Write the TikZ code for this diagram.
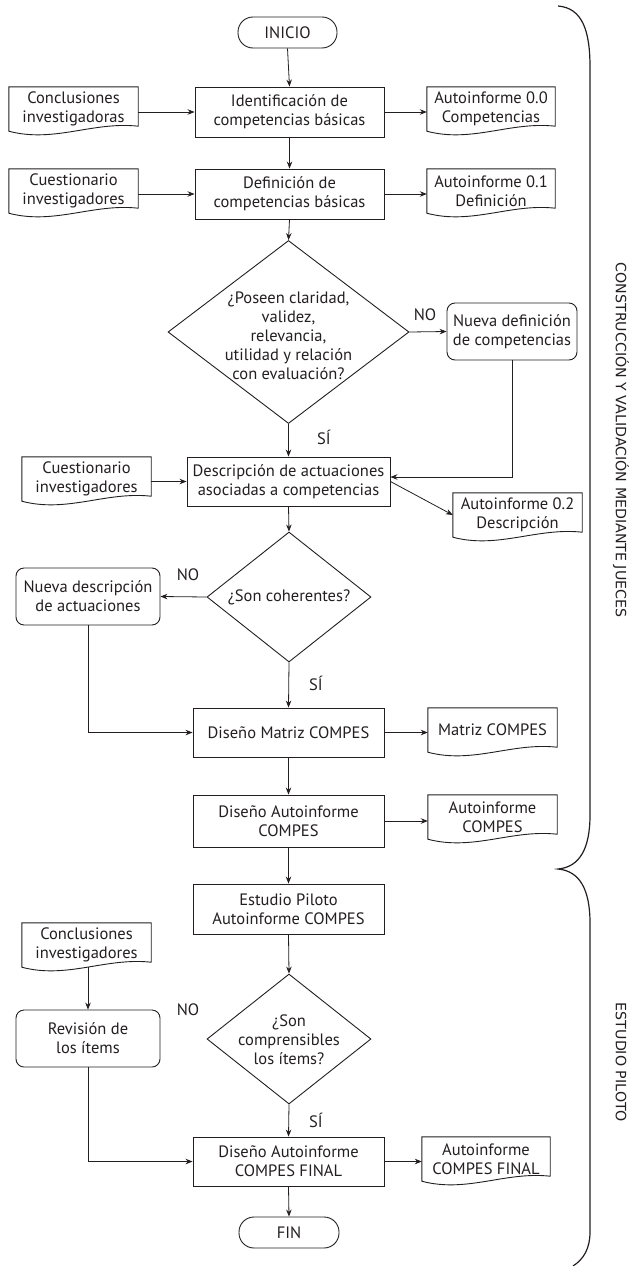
\documentclass[tikz,border=0pt]{standalone}
\usepackage{fontspec}
\setmainfont{PT Sans}
\newfontfamily\sidefont{DejaVu Sans}
\usetikzlibrary{arrows.meta,shapes.geometric,calc}
\definecolor{ink}{HTML}{231F20}
\begin{document}
\begin{tikzpicture}[x=1pt,y=-1pt,
  base/.style={font=\fontsize{16.5}{19}\selectfont, align=center, inner sep=0pt, text=ink},
  proc/.style={base, draw=ink, line width=0.9pt, minimum width=189pt, minimum height=50pt},
  altbox/.style={base, draw=ink, line width=0.9pt, rounded corners=8pt, minimum width=144pt, minimum height=57pt},
  term/.style={base, draw=ink, line width=0.9pt, rounded corners=15pt, minimum width=99pt, minimum height=31pt},
  docbox/.style={base, minimum width=129pt, minimum height=44pt},
  dec/.style={draw=ink, diamond, line width=0.9pt, inner sep=0pt},
  lbl/.style={base},
  side/.style={font=\sidefont\fontsize{14.2}{16}\selectfont, text=ink, rotate=-90, inner sep=0pt},
  arr/.style={draw=ink, line width=0.8pt, -{Stealth[length=7pt,width=5.5pt]}},
  docline/.style={draw=ink, line width=0.9pt},
  bracel/.style={draw=ink, line width=1.2pt}
]
\useasboundingbox (0,0) rectangle (632,1266);

% --- nodes ---
\node[term] (inicio) at (287.5,32.5) {INICIO};
\node[proc] (p1) at (289.5,112) {Identificación de\\competencias básicas};
\node[docbox] (c1) at (73.5,109) {Conclusiones\\investigadoras};
\node[docbox, minimum width=128pt] (a0) at (491,109) {Autoinforme 0.0\\Competencias};
\node[proc] (p2) at (289.5,194) {Definición de\\competencias básicas};
\node[docbox] (c2) at (73.5,191) {Cuestionario\\investigadores};
\node[docbox, minimum width=128pt] (a1) at (491,191) {Autoinforme 0.1\\Definición};

\node[dec, minimum width=241pt, minimum height=183pt] (d1) at (288.5,332) {};
\node[base] (d1t) at (288.5,335.5) {¿Poseen claridad,\\validez,\\relevancia,\\utilidad y relación\\con evaluación?};
\node[altbox, minimum width=130pt] (n1) at (512,331.5) {Nueva definición\\de competencias};
\node[lbl] (no1) at (425,315) {NO};
\node[lbl] (si1) at (324,437) {SÍ};

\node[proc, minimum width=203pt, minimum height=49pt] (p3) at (288.5,481.5) {Descripción de actuaciones\\asociadas a competencias};
\node[docbox] (c3) at (86.5,479) {Cuestionario\\investigadores};
\node[docbox] (a2) at (517.5,515) {Autoinforme 0.2\\Descripción};

\node[dec, minimum width=164pt, minimum height=130pt] (d2) at (289,597) {};
\node[base] (d2t) at (289,597) {¿Son coherentes?};
\node[altbox] (n2) at (88,596.5) {Nueva descripción\\de actuaciones};
\node[lbl] (no2) at (188,575) {NO};
\node[lbl] (si2) at (316,683) {SÍ};

\node[proc, minimum width=191pt, minimum height=49pt] (p4) at (288.5,732.5) {Diseño Matriz COMPES};
\node[docbox] (m) at (492.5,730) {Matriz COMPES};
\node[proc, minimum width=191pt, minimum height=52pt] (p5) at (288.5,821) {Diseño Autoinforme\\COMPES};
\node[docbox] (a3) at (492.5,817) {Autoinforme\\COMPES};
\node[proc, minimum width=191pt] (p6) at (288.5,909) {Estudio Piloto\\Autoinforme COMPES};

\node[dec, minimum width=164pt, minimum height=130pt] (d3) at (289,1039) {};
\node[base] (d3t) at (289,1040) {¿Son\\comprensibles\\los ítems?};
\node[docbox] (c4) at (86.5,945) {Conclusiones\\investigadores};
\node[altbox] (r) at (88,1038.5) {Revisión de\\los ítems};
\node[lbl] (no3) at (188,1010) {NO};
\node[lbl] (si3) at (316,1120) {SÍ};

\node[proc, minimum width=191pt, minimum height=49pt] (p7) at (288.5,1161.5) {Diseño Autoinforme\\COMPES FINAL};
\node[docbox, minimum width=128pt] (a4) at (486,1159) {Autoinforme\\COMPES FINAL};
\node[term, minimum width=100pt] (fin) at (289,1232.5) {FIN};

% side labels
\node[side] (s1) at (621,440) {CONSTRUCCIÓN Y VALIDACIÓN MEDIANTE JUECES};
\node[side] (s2) at (621,1062.5) {ESTUDIO PILOTO};

% --- document outlines ---
\foreach \n in {c1,a0,c2,a1,c3,a2,m,a3,c4,a4}{
  \draw[docline] (\n.south west) -- (\n.north west) -- (\n.north east) -- ($(\n.south east)+(0,5pt)$)
    .. controls ($(\n.south west)!0.65!(\n.south east)+(0,10pt)$) and ($(\n.south west)!0.35!(\n.south east)+(0,-12pt)$) .. (\n.south west) -- cycle;
}

% --- connectors ---
\draw[arr] (inicio.south) -- (p1.north);
\draw[arr] (c1.east |- p1.west) -- (p1.west);
\draw[arr] (p1.east) -- (p1.east -| a0.west);
\draw[arr] (p1.south) -- (p2.north);
\draw[arr] (c2.east |- p2.west) -- (p2.west);
\draw[arr] (p2.east) -- (p2.east -| a1.west);
\draw[arr] (p2.south) -- (d1.north);
\draw[arr] (d1.east) -- (n1.west);
\draw[arr] (d1.south) -- (p3.north);
\draw[arr] (n1.south) |- ($(p3.east)+(0,4.5pt)$);
\draw[arr] (c3.east |- p3.west) -- (p3.west);
\draw[arr] (p3.east) -- (a2.west);
\draw[arr] (p3.south) -- (d2.north);
\draw[arr] (d2.west) -- (n2.east);
\draw[arr] (n2.south) |- (p4.west);
\draw[arr] (d2.south) -- (p4.north);
\draw[arr] (p4.east) -- (p4.east -| m.west);
\draw[arr] (p4.south) -- (p5.north);
\draw[arr] (p5.east) -- (p5.east -| a3.west);
\draw[arr] (p5.south) -- (p6.north);
\draw[arr] (p6.south) -- (d3.north);
\draw[arr] (c4.south -| r.north) -- (r.north);
\draw[arr] (r.south) |- (p7.west);
\draw[arr] (d3.south) -- (p7.north);
\draw[arr] (p7.east) -- (p7.east -| a4.west);
\draw[arr] (p7.south) -- (fin.north);

% --- braces ---
\coordinate (bt) at (558,6);
\coordinate (bm) at (558,869);
\coordinate (bb) at (573,1266);
\draw[bracel] (bt) .. controls (582,8) and (590,30) .. (590,67) -- (590,815)
  .. controls (590,848) and (580,867) .. (bm)
  .. controls (580,871) and (590,890) .. (590,923) -- (590,1232)
  .. controls (590,1248) and (584,1259) .. (bb);
\end{tikzpicture}
\end{document}
